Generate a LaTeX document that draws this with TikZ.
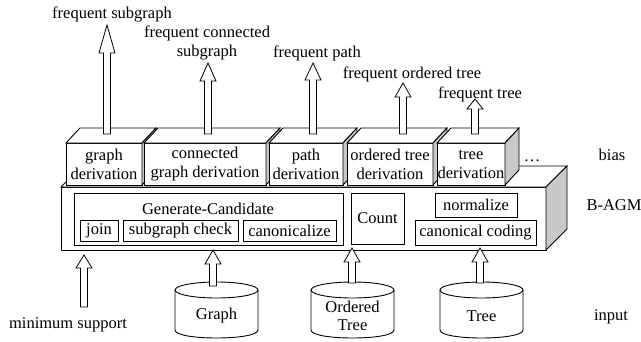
\documentclass[tikz,border=0pt]{standalone}
\usepackage{fontspec}
\setmainfont{Liberation Serif}
\newfontfamily\tnr{Liberation Serif}
\usetikzlibrary{calc}
\definecolor{sidegray}{RGB}{200,200,200}
\tikzset{
  every node/.style={font=\tnr\fontsize{16.5}{19}\selectfont, inner sep=0pt, outer sep=0pt},
  lbl/.style={align=center},
  boxline/.style={line width=0.9pt},
  cubeface/.style={draw, boxline, fill=white, minimum height=42, align=center},
  inbox/.style={draw, line width=0.8pt, fill=white},
  barrowstyle/.style={draw, line width=0.8pt, fill=white}
}
% vertical hollow block arrow: #1 start coord, #2 tip coord, #3 head length (pt)
\newcommand\barrow[3]{%
  \path[barrowstyle] let \p1=(#1), \p2=(#2) in
    (\x1-3.5pt,\y1) -- (\x1-3.5pt,\y2-#3pt) -- (\x1-8pt,\y2-#3pt) -- (\x1,\y2)
    -- (\x1+8pt,\y2-#3pt) -- (\x1+3.5pt,\y2-#3pt) -- (\x1+3.5pt,\y1) -- cycle;}
% derivation cube: #1 name, #2 centre x, #3 width, #4 text
\newcommand\dcube[4]{%
  \node[cubeface, minimum width=#3] (#1) at (#2,164) {#4};
  \draw[boxline, fill=white] (#1.north west) -- ++(14,-15) -- ++(#3,0) -- (#1.north east) -- cycle;
  \draw[boxline, fill=sidegray] (#1.north east) -- ++(14,-15) -- ++(0,42) -- (#1.south east) -- cycle;}
% database cylinder: #1 name, #2 centre x, #3 text
\newcommand\dbcyl[3]{%
  \draw[boxline, fill=white] (#2-41.5,290) -- (#2-41.5,330)
    .. controls (#2-41.5,340.67) and (#2+41.5,340.67) .. (#2+41.5,330) -- (#2+41.5,290);
  \draw[boxline, fill=white] (#2,290) ellipse[x radius=41.5, y radius=8];
  \node[lbl, font=\tnr\fontsize{16.5}{18}\selectfont] (#1) at (#2,316) {#3};
  \coordinate (#1top) at (#2,285);}
\begin{document}
\begin{tikzpicture}[x=1pt,y=-1pt]
\useasboundingbox (0,0) rectangle (641,341);
% main B-AGM box
\node[draw, boxline, fill=white, minimum width=485, minimum height=63, anchor=north west] (main) at (61,187) {};
\draw[boxline, fill=white] (main.north west) -- ++(21,-21) -- ++(485,0) -- (main.north east) -- cycle;
\draw[boxline, fill=sidegray] (main.north east) -- ++(21,-21) -- ++(0,63) -- (main.south east) -- cycle;
% inner boxes
\node[inbox, minimum width=269, minimum height=52, anchor=north west] (gc) at (74,193) {};
\node (gct) at (208,209) {Generate-Candidate};
\node[inbox, minimum width=38, minimum height=21, anchor=north west] (join) at (80,220) {};
\node at (join.center) {join};
\node[inbox, minimum width=115, minimum height=21, anchor=north west] (sgc) at (123,220) {};
\node at (sgc.center) {subgraph check};
\node[inbox, minimum width=93, minimum height=21, anchor=north west] (can) at (243,220) {};
\node at (can.center) {canonicalize};
\node[inbox, minimum width=53, minimum height=51, anchor=north west] (count) at (351,193) {};
\node at (count.center) {Count};
\node[inbox, minimum width=82, minimum height=24, anchor=north west] (norm) at (435,193) {};
\node at (norm.center) {normalize};
\node[inbox, minimum width=121, minimum height=25, anchor=north west] (cc) at (415,220) {};
\node at (cc.center) {canonical coding};
% derivation cubes
\dcube{gd}{104}{76}{graph\\derivation}
\dcube{cgd}{205}{122}{connected\\graph derivation}
\dcube{pd}{306}{74}{path\\derivation}
\dcube{otd}{390}{86}{ordered tree\\derivation}
\dcube{td}{471}{68}{tree\\derivation}
\node (dots) at (532,161) {\dots};
% output labels
\node[lbl] (o1) at (112,14) {frequent subgraph};
\node[lbl] (o2) at (207,43) {frequent connected\\subgraph};
\node[lbl] (o3) at (317,53) {frequent path};
\node[lbl] (o4) at (412,74) {frequent ordered tree};
\node[lbl] (o5) at (480,94) {frequent tree};
% output arrows
\coordinate (a1s) at (107,134); \coordinate (a1e) at (107,25);
\coordinate (a2s) at (208,134); \coordinate (a2e) at (208,63);
\coordinate (a3s) at (313,134); \coordinate (a3e) at (313,63);
\coordinate (a4s) at (403,134); \coordinate (a4e) at (403,83);
\coordinate (a5s) at (475,134); \coordinate (a5e) at (475,99);
\barrow{a1s}{a1e}{28}
\barrow{a2s}{a2e}{18}
\barrow{a3s}{a3e}{17}
\barrow{a4s}{a4e}{14}
\barrow{a5s}{a5e}{10}
% databases
\dbcyl{graph}{216.5}{Graph}
\dbcyl{otree}{352.5}{Ordered\\Tree}
\dbcyl{tree}{481.5}{Tree}
\coordinate (b2e) at (213,250); \coordinate (b2s) at (213,286);
\coordinate (b3e) at (352,248); \coordinate (b3s) at (352,283);
\coordinate (b4e) at (480,248); \coordinate (b4s) at (480,283);
\barrow{b2s}{b2e}{14}
\barrow{b3s}{b3e}{14}
\barrow{b4s}{b4e}{14}
% minimum support
\node (ms) at (68,325) {minimum support};
\coordinate (b1s) at (84,307); \coordinate (b1e) at (84,255);
\barrow{b1s}{b1e}{13}
% side labels
\node (bias) at (612,155) {bias};
\node (bagm) at (614,205) {B-AGM};
\node (input) at (611,317) {input};
\end{tikzpicture}
\end{document}
